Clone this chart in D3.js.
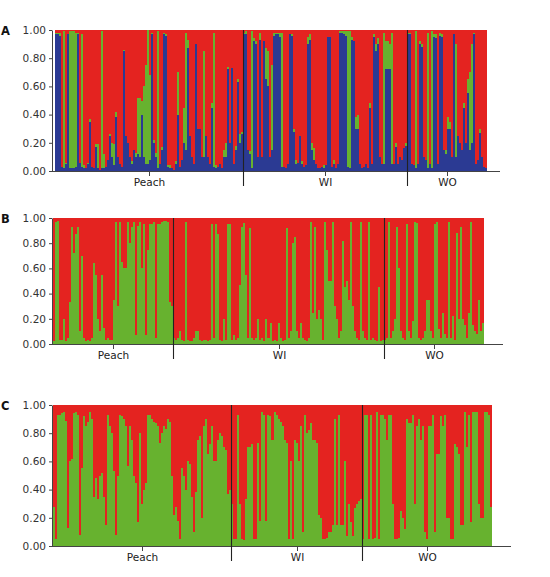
<!DOCTYPE html>
<html><head><meta charset="utf-8">
<script src="https://cdn.jsdelivr.net/npm/d3@7"></script>
<style>
body{margin:0;background:#fff;}
svg{display:block;font-family:"DejaVu Sans",Verdana,sans-serif;}
</style>
</head><body>
<svg id="chart" width="550" height="577"></svg>
<script>
// ---------- DATA ----------
const groupNames = ["Peach", "WI", "WO"];
const panelLabels = ["A", "B", "C"];
const yTicks = [0, 0.2, 0.4, 0.6, 0.8, 1.0];

// Panel A (K=3): blue (bottom), green (middle), red = remainder (top)
const aBluePeach = [.97,.97,.96,.03,.02,.05,.97,.02,.02,.02,
  .03,.97,.06,.03,.02,.02,.05,.35,.03,.02,
  .17,.02,.01,.02,.02,.03,.08,.25,.1,.04,
  .38,.1,.05,.03,.85,.25,.2,.1,.05,.15,
  .1,.12,.1,.4,.1,.05,.05,.08,.97,.2,
  .1,.02,.05,.15,.97,.96,.03,.02,.02,.01,
  .05,.4,.03,.08,.2,.15,.87,.25,.1,.05,
  .9,.3,.3,.1,.1,.25,.1,.05,.45,.03,
  .02,.03,.05,.02,.1,.1,.72,.2,.73,.05,
  .15,.63,.2,.26];
const aGreenPeach = [.01,.01,.02,0,.97,.01,0,.97,.97,.97,
  .95,.01,0,.94,.02,0,.01,.02,0,0,
  .02,.17,0,.97,.1,0,0,.01,.1,.15,
  .04,0,0,0,.01,0,0,0,.02,0,
  .03,.4,.42,.1,.5,.7,.95,.6,.01,.02,
  .03,.97,0,.02,.01,.01,.01,.02,0,0,
  .02,.3,0,0,.25,.83,.06,0,0,0,
  0,0,0,0,.75,0,0,0,.03,.95,
  .02,0,0,0,.05,.1,.02,0,0,0,
  .03,.02,.06,.02];
const aBlueWI = [.97,.97,.15,.12,.02,.92,.9,.1,.93,.1,
  .92,.65,.6,.1,.15,.96,.97,.97,.95,.03,
  .03,.02,.05,.97,.96,.28,.05,.06,.25,.05,
  .03,.04,.9,.93,.15,.08,.05,.02,.02,.03,
  .02,.04,.95,.95,.03,.05,.02,.05,.98,.98,
  .97,.96,.03,.02,.93,.92,.3,.3,.05,.02,
  .03,.05,.02,.45,.05,.95,.85,.9,.1,.05,
  .05,.72,.72,.72,.05,.05,.17,.05,.1,.08,
  .16,.18];
const aGreenWI = [.01,.02,0,.02,.97,.02,.02,0,.05,0,
  0,.22,.25,0,.6,.02,.01,.01,.03,.95,
  0,0,0,0,.01,.02,.03,0,0,.02,
  0,0,.05,.04,.05,.08,0,0,0,0,
  .02,0,0,0,0,.03,0,0,.01,.01,
  .02,.03,.96,.97,.02,0,.08,.1,0,0,
  0,0,0,.03,0,.02,.05,.04,0,0,
  .93,.2,.2,.18,.93,0,.03,0,0,0,
  0,.02];
const aBlueWO = [.97,.97,.05,.04,.02,.05,.9,.88,.1,.08,
  .02,.05,.02,.95,.94,.05,.96,.95,.15,.12,
  .3,.3,.1,.97,.1,.25,.2,.15,.45,.2,
  .55,.15,.2,.97,.05,.08,.27,.1,.03,.02];
const aGreenWO = [.01,.01,0,0,.97,0,.02,.02,0,0,
  .96,0,.97,.02,.03,0,.02,.02,0,.03,
  .08,.05,0,0,.8,0,0,0,.03,0,
  .1,.55,.7,.01,0,0,.03,0,0,0];

// Panel B (K=2): green (bottom), red = remainder (top)
const bGreenPeach = [.02,.97,.98,.03,.03,.2,.02,.05,.33,.93,
  .72,.87,.93,.1,.7,.05,.02,.03,.02,.05,
  .64,.55,.2,.1,.55,.13,.03,.05,.03,.03,
  .35,.97,.3,.97,.65,.6,.6,.97,.8,.93,
  .97,.07,.94,.97,.6,.95,.07,.75,.95,.95,
  .97,.05,.95,.95,.97,.98,.98,.97,.33,.3];
const bGreenWI = [.05,.03,.05,.1,.03,.02,.97,.03,.02,.02,
  .05,.1,.1,.03,.02,.03,.03,.02,.03,.95,
  .05,.95,.87,.03,.02,.2,.03,.95,.95,.03,
  .07,.03,.05,.47,.93,.96,.55,.05,.92,.05,
  .03,.05,.2,.03,.05,.02,.2,.05,.17,.02,
  .03,.02,.17,.05,.02,.03,.92,.05,.1,.8,
  .85,.1,.05,.17,.05,.03,.02,.05,.97,.25,
  .93,.2,.27,.2,.03,.97,.75,.5,.5,.97,
  .3,.2,.05,.1,.82,.45,.5,.35,.97,.3,
  .1,.05,.03,.97,.1,.05,.03,.97,.03,.05,
  .03,.02,.45,.02,.03];
const bGreenWO = [.03,.05,.97,.05,.1,.2,.93,.6,.1,.05,
  .03,.95,.1,.05,.18,.97,.96,.05,.03,.05,
  .1,.35,.35,.1,.05,.95,.97,.12,.05,.25,
  .08,.05,.97,.05,.22,.03,.88,.2,.93,.2,
  .15,.05,.25,.97,.15,.1,.08,.35,.1,.17];

// Panel C (K=2): green (bottom), red = remainder (top)
const cGreenPeach = [.28,.05,.93,.93,.94,.95,.89,.13,.6,.62,
  .94,.95,.93,.08,.55,.92,.85,.88,.95,.9,
  .35,.48,.33,.5,.52,.35,.15,.93,.85,.8,
  .53,.08,.5,.93,.92,.9,.85,.57,.85,.75,
  .5,.45,.17,.8,.3,.4,.45,.93,.93,.9,
  .88,.87,.85,.73,.8,.85,.83,.9,.88,.5,
  .22,.28,.18,.05,.55,.5,.4,.6,.58,.35,
  .1,.38,.75,.78,.2,.85,.9,.65,.72,.85,
  .6,.6,.75,.8,.78,.7,.68,.37,.4];
const cGreenWI = [.3,.05,.05,.93,.3,.05,.04,.33,.7,.7,
  .72,.05,.05,.73,.18,.95,.93,.18,.93,.92,
  .75,.95,.93,.9,.88,.85,.75,.73,.05,.6,
  .05,.75,.73,.6,.85,.1,.93,.8,.82,.87,
  .75,.75,.73,.22,.2,.05,.05,.06,.1,.1,
  .15,.9,.15,.93,.15,.15,.6,.07,.3,.17,
  .07,.27,.3,.32,.33];
const cGreenWO = [.05,.93,.93,.05,.93,.05,.06,.95,.05,.93,
  .93,.9,.75,.93,.93,.3,.05,.05,.06,.25,
  .2,.12,.9,.87,.87,.93,.3,.85,.9,.75,
  .85,.1,.05,.85,.85,.93,.1,.65,.65,.92,
  .85,.93,.2,.2,.05,.05,.72,.7,.65,.15,
  .15,.95,.7,.93,.17,.95,.95,.95,.3,.2,
  .2,.95,.95,.93,.28];

// ---------- STYLE / LAYOUT ----------
const colors = {blue: "#2B3A93", green: "#67B22F", red: "#E42320"};
const layouts = [
  {top: 30,  bottom: 171, left: 55, right: 487, axisX: 52, axisEnd: 500},
  {top: 218, bottom: 344, left: 53, right: 484, axisX: 52, axisEnd: 503},
  {top: 405, bottom: 546, left: 53, right: 492, axisX: 52, axisEnd: 511}
];

const panels = [
  {keys: ["blue", "green", "red"],
   groups: [{blue: aBluePeach, green: aGreenPeach},
            {blue: aBlueWI, green: aGreenWI},
            {blue: aBlueWO, green: aGreenWO}]},
  {keys: ["green", "red"],
   groups: [{green: bGreenPeach}, {green: bGreenWI}, {green: bGreenWO}]},
  {keys: ["green", "red"],
   groups: [{green: cGreenPeach}, {green: cGreenWI}, {green: cGreenWO}]}
];

const svg = d3.select("#chart");

panels.forEach((panel, pi) => {
  const L = layouts[pi];
  const rows = [];
  const starts = [];
  panel.groups.forEach((g, gi) => {
    starts.push(rows.length);
    g.green.forEach((gv, i) => {
      const bv = g.blue ? g.blue[i] : 0;
      rows.push({idx: rows.length, group: groupNames[gi], blue: bv, green: gv, red: Math.max(0, 1 - bv - gv)});
    });
  });
  const n = rows.length;

  const x = d3.scaleBand().domain(d3.range(n)).range([L.left, L.right]).padding(0);
  const y = d3.scaleLinear().domain([0, 1]).range([L.bottom, L.top]);
  const xl = i => Math.round(x(i));
  const xr = i => i < n - 1 ? Math.round(x(i + 1)) : Math.round(L.right);
  const yr = v => Math.round(y(Math.min(1, v)));

  const stacked = d3.stack().keys(panel.keys)(rows);
  const g = svg.append("g");

  g.selectAll("g.layer").data(stacked).join("g")
    .attr("class", "layer")
    .attr("fill", d => colors[d.key])
    .attr("shape-rendering", "crispEdges")
    .selectAll("rect").data(d => d).join("rect")
      .attr("x", (d, i) => xl(i))
      .attr("width", (d, i) => xr(i) - xl(i))
      .attr("y", d => yr(d[1]))
      .attr("height", d => Math.max(0, yr(d[0]) - yr(d[1])));

  // y axis
  const yAxis = g.append("g")
    .attr("transform", `translate(${L.axisX},0)`)
    .call(d3.axisLeft(y).tickValues(yTicks).tickFormat(d3.format(".2f")).tickSize(3).tickSizeOuter(0).tickPadding(3));
  yAxis.selectAll("text").attr("font-size", 10.5).attr("fill", "#333").attr("font-family", '"DejaVu Sans",Verdana,sans-serif');
  yAxis.selectAll("line").attr("stroke", "#444");
  yAxis.select(".domain").attr("stroke", "#444");

  // x axis line
  g.append("line")
    .attr("x1", L.axisX).attr("x2", L.axisEnd)
    .attr("y1", L.bottom + 0.5).attr("y2", L.bottom + 0.5)
    .attr("stroke", "#444").attr("stroke-width", 1);

  // separators
  starts.slice(1).forEach(s => {
    const sx = xl(s) + 0.5;
    g.append("line")
      .attr("x1", sx).attr("x2", sx)
      .attr("y1", L.top).attr("y2", L.bottom + 15)
      .attr("stroke", "#222").attr("stroke-width", 1.1);
  });

  // group ticks and labels
  starts.forEach((s, gi) => {
    const e = gi < starts.length - 1 ? starts[gi + 1] : n;
    const cx = Math.round((x(s) + (e < n ? x(e) : L.right)) / 2) + 0.5;
    g.append("line")
      .attr("x1", cx).attr("x2", cx)
      .attr("y1", L.bottom).attr("y2", L.bottom + 5)
      .attr("stroke", "#444");
    g.append("text")
      .attr("x", cx).attr("y", L.bottom + 15)
      .attr("text-anchor", "middle")
      .attr("font-size", 10.5).attr("fill", "#222")
      .text(groupNames[gi]);
  });

  // panel letter
  g.append("text")
    .attr("x", 1).attr("y", L.top + 5)
    .attr("font-size", 11.5).attr("font-weight", "bold").attr("fill", "#111")
    .text(panelLabels[pi]);
});
</script>
</body></html>
